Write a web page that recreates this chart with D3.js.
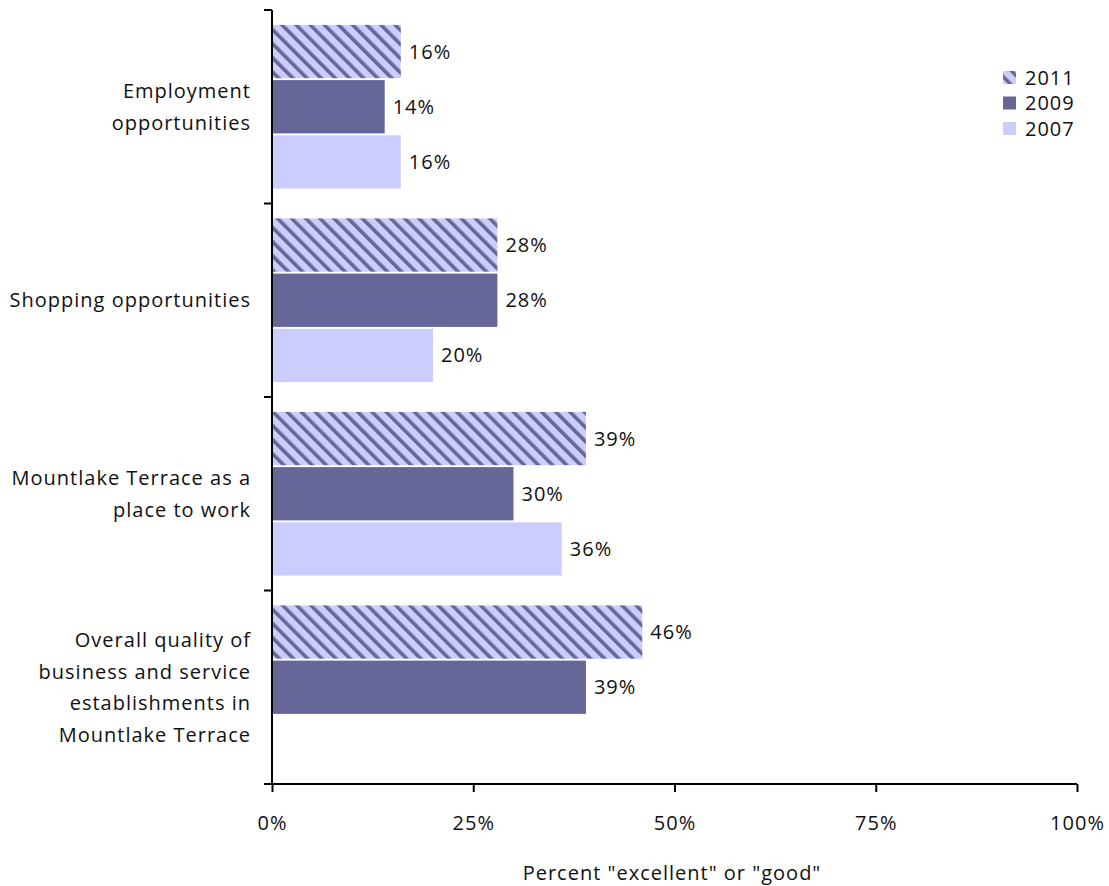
<!DOCTYPE html>
<html>
<head>
<meta charset="utf-8">
<script src="https://cdn.jsdelivr.net/npm/d3@7"></script>
<style>
  body { margin: 0; background: #fff; }
  text { font-family: "Open Sans", Lato, sans-serif; fill: #111; letter-spacing: 1px; }
</style>
</head>
<body>
<div id="chart"></div>
<script>
let width = 1109;
let height = 886;
let margin = ({top: 10, right: 32, bottom: 102, left: 272});
let fontSize = 20;

// Data
let categories = [
    ["Employment", "opportunities"],
    ["Shopping opportunities"],
    ["Mountlake Terrace as a", "place to work"],
    ["Overall quality of", "business and service", "establishments in", "Mountlake Terrace"]
];
let years = ["2011", "2009", "2007"];
let values2011 = [16, 28, 39, 46];
let values2009 = [14, 28, 30, 39];
let values2007 = [16, 20, 36, null];
let xTicks = [0, 25, 50, 75, 100];

let series = [
    {year: "2011", values: values2011},
    {year: "2009", values: values2009},
    {year: "2007", values: values2007}
];

let fills = {"2011": "url(#hatch)", "2009": "#666699", "2007": "#ccccff"};

let svg = d3.select("#chart").append("svg")
    .attr("width", width)
    .attr("height", height);

// hatch pattern for 2011
let defs = svg.append("defs");
let pat = defs.append("pattern")
    .attr("id", "hatch")
    .attr("patternUnits", "userSpaceOnUse")
    .attr("width", 10)
    .attr("height", 10)
    .attr("patternTransform", "rotate(-45)");
pat.append("rect").attr("width", 10).attr("height", 10).attr("fill", "#ccccff");
pat.append("rect").attr("x", 0).attr("width", 3.6).attr("height", 10).attr("fill", "#666699");

let x = d3.scaleLinear()
    .domain([0, 100])
    .range([margin.left, width - margin.right]);

let y = d3.scaleBand()
    .domain(d3.range(categories.length))
    .range([margin.top, height - margin.bottom])
    .paddingInner(0)
    .paddingOuter(0);

let yInner = d3.scaleBand()
    .domain(years)
    .range([0, y.bandwidth()])
    .paddingOuter(0.27)
    .paddingInner(0.035);

// bars
series.forEach(function(s) {
    let g = svg.append("g");
    let rows = s.values.map(function(v, i) { return {v: v, i: i}; })
        .filter(function(d) { return d.v != null; });
    g.selectAll("rect")
        .data(rows)
        .enter()
        .append("rect")
        .attr("x", x(0))
        .attr("y", function(d) { return y(d.i) + yInner(s.year); })
        .attr("width", function(d) { return x(d.v) - x(0); })
        .attr("height", yInner.bandwidth())
        .attr("fill", fills[s.year]);
    g.selectAll("text")
        .data(rows)
        .enter()
        .append("text")
        .attr("x", function(d) { return x(d.v) + 8; })
        .attr("y", function(d) { return y(d.i) + yInner(s.year) + yInner.bandwidth() / 2; })
        .attr("dy", "0.35em")
        .attr("font-size", fontSize)
        .text(function(d) { return d.v + "%"; });
});

// x axis
let xAxis = d3.axisBottom(x)
    .tickValues(xTicks)
    .tickFormat(function(d) { return d + "%"; })
    .tickSize(8)
    .tickSizeOuter(0)
    .tickPadding(24);

let gx = svg.append("g")
    .attr("transform", "translate(0," + (height - margin.bottom) + ")")
    .call(xAxis);
gx.select(".domain").attr("stroke", "#000").attr("stroke-width", 2)
    .attr("d", "M" + (x(0) - 8) + ",0H" + x(100));
gx.selectAll(".tick line").attr("stroke", "#000").attr("stroke-width", 2);
gx.selectAll(".tick text").attr("font-size", fontSize)
    .attr("font-family", '"Open Sans", sans-serif').attr("fill", "#111");

// y axis with ticks at band boundaries
let yBounds = d3.range(categories.length + 1).map(function(i) {
    return margin.top + i * y.bandwidth();
});
svg.append("line")
    .attr("x1", x(0)).attr("x2", x(0))
    .attr("y1", margin.top).attr("y2", height - margin.bottom)
    .attr("stroke", "#000").attr("stroke-width", 2);
svg.selectAll(".ytick")
    .data(yBounds)
    .enter()
    .append("line")
    .attr("class", "ytick")
    .attr("x1", x(0) - 8).attr("x2", x(0))
    .attr("y1", function(d) { return d; })
    .attr("y2", function(d) { return d; })
    .attr("stroke", "#000").attr("stroke-width", 2);

// category labels
let lineH = 31.5;
categories.forEach(function(lines, i) {
    let cy = y(i) + y.bandwidth() / 2;
    let t = svg.append("text")
        .attr("text-anchor", "end")
        .attr("font-size", fontSize);
    lines.forEach(function(l, k) {
        t.append("tspan")
            .attr("x", 251)
            .attr("y", cy + (k - (lines.length - 1) / 2) * lineH)
            .attr("dy", "0.35em")
            .text(l);
    });
});

// axis title
svg.append("text")
    .attr("x", 672)
    .attr("y", 873)
    .attr("dy", "0.35em")
    .attr("text-anchor", "middle")
    .attr("font-size", fontSize)
    .text('Percent "excellent" or "good"');

// legend
let legend = svg.append("g").attr("transform", "translate(1003,65)");
years.forEach(function(yr, i) {
    legend.append("rect")
        .attr("x", 0)
        .attr("y", i * 25.5 + 6)
        .attr("width", 13)
        .attr("height", 13)
        .attr("fill", fills[yr]);
    legend.append("text")
        .attr("x", 22)
        .attr("y", i * 25.5 + 12.5)
        .attr("dy", "0.35em")
        .attr("font-size", fontSize)
        .text(yr);
});
</script>
</body>
</html>
